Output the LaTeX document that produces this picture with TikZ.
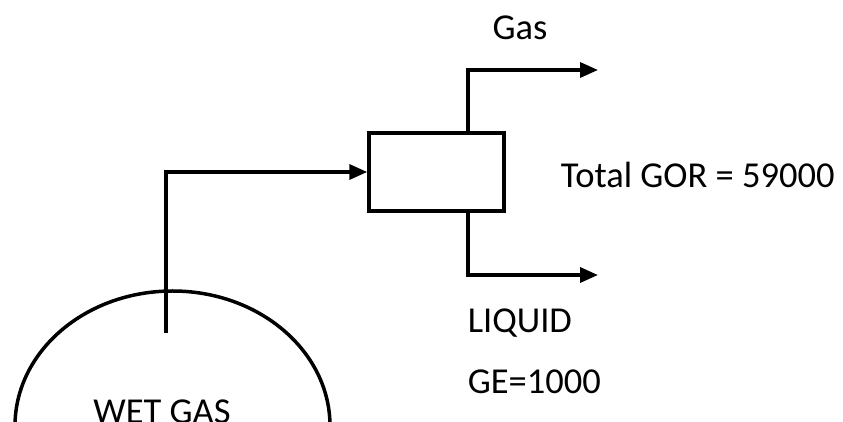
\documentclass[tikz,border=0pt]{standalone}
\usepackage{fontspec}
\setmainfont{Carlito}
\usetikzlibrary{arrows.meta}

\begin{document}
\begin{tikzpicture}[x=1pt,y=1pt,line width=3.5pt,>={Triangle[length=18pt,width=15pt]},
  lbl/.style={font=\fontsize{36.5}{42}\selectfont,inner sep=0pt}]
\useasboundingbox (0,0) rectangle (843,422);
% well and separator
\draw (15,-4) arc[start angle=180,end angle=0,x radius=157.5,y radius=135];
\node[draw,minimum width=135,minimum height=78,inner sep=0pt] (sep) at (436.5,250) {};
\coordinate (well) at (166,89);
\coordinate (gasout) at (598,352);
\coordinate (liqout) at (598,147);
\draw[->] (well) |- (sep.west);
\draw[->] (sep.north -| 468,0) |- (gasout);
\draw[->] (sep.south -| 468,0) |- (liqout);
% labels
\node[lbl] (gas) at (520,394) {Gas};
\node[lbl,anchor=west] (gor) at (559,247) {Total GOR = 59000};
\node[lbl,anchor=west] (liq) at (466,99) {LIQUID};
\node[lbl,anchor=west] (ge) at (466,40) {GE=1000};
\node[lbl,anchor=base] (wet) at (162,-2) {WET GAS};
\end{tikzpicture}
\end{document}
